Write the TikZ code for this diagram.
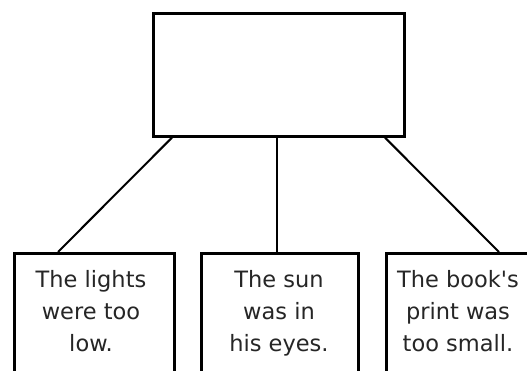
\documentclass[tikz,border=0pt]{standalone}
\usepackage{fontspec}
\setmainfont{DejaVu Sans}
\begin{document}
\begin{tikzpicture}[x=1pt,y=1pt,
  box/.style={draw=black, line width=2.6pt, fill=white, inner sep=0pt, anchor=north west},
  lbl/.style={inner sep=0pt, anchor=north, align=center, text=black!85,
    font=\fontsize{22.5}{32}\selectfont},
  link/.style={draw=black, line width=2pt}]
\useasboundingbox (0,0) rectangle (527,371);
\clip (0,0) rectangle (527,371);
% top box
\node[box, minimum width=251pt, minimum height=123pt] (top) at (152,359) {};
% bottom boxes
\node[box, minimum width=160pt, minimum height=150pt] (b1) at (13,119) {};
\node[box, minimum width=157pt, minimum height=150pt] (b2) at (200,119) {};
\node[box, minimum width=160pt, minimum height=150pt] (b3) at (385,119) {};
% texts
\node[lbl] (t1) at (91,100.5) {The lights\\were too\\low.};
\node[lbl] (t2) at (279,100.5) {The sun\\was in\\his eyes.};
\node[lbl] (t3) at (458,100.5) {The book\textquotesingle s\\print was\\too small.};
% connector ends
\coordinate (s1) at ([xshift=20pt]top.south west);
\coordinate (s2) at ([xshift=125pt]top.south west);
\coordinate (s3) at ([xshift=233pt]top.south west);
\coordinate (e1) at ([xshift=45pt]b1.north west);
\coordinate (e2) at ([xshift=77pt]b2.north west);
\coordinate (e3) at ([xshift=114pt]b3.north west);
\draw[link] (s1) -- (e1);
\draw[link] (s2) -- (e2);
\draw[link] (s3) -- (e3);
\end{tikzpicture}
\end{document}
